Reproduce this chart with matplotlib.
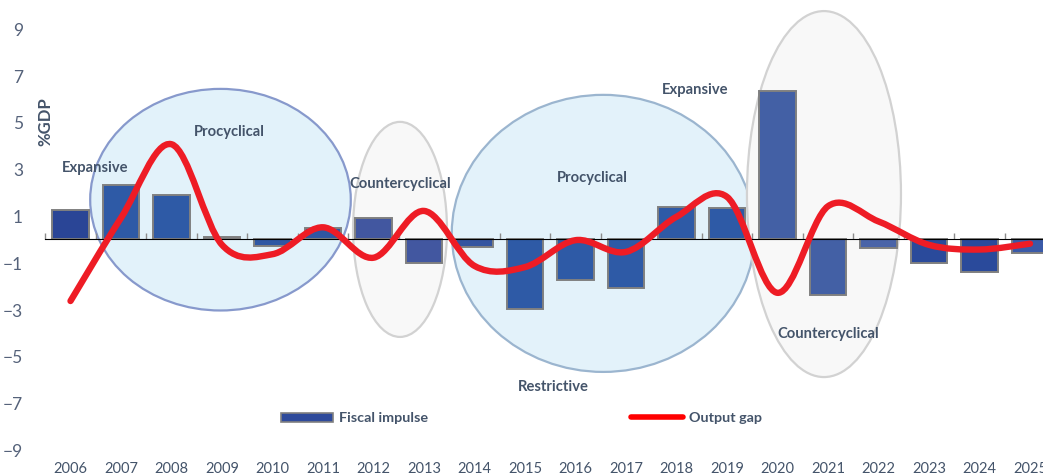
import matplotlib
matplotlib.use("Agg")
import matplotlib.pyplot as plt
from matplotlib.patches import Ellipse, Rectangle, PathPatch
from matplotlib.path import Path
from matplotlib.lines import Line2D
import numpy as np

plt.rcParams['font.family'] = ['Lato', 'DejaVu Sans']

# data
years = [str(y) for y in range(2006, 2026)]
fiscal_impulse = [1.24, 2.3, 1.88, 0.08, -0.3, 0.47, 0.9, -1.03, -0.33, -3.0,
                  -1.75, -2.08, 1.38, 1.33, 6.34, -2.38, -0.38, -1.03, -1.4, -0.6]
output_gap = [-2.65, 0.9, 4.05, -0.25, -0.65, 0.5, -0.8, 1.2, -1.15, -1.2,
              -0.05, -0.55, 0.95, 1.8, -2.3, 1.4, 0.75, -0.25, -0.45, -0.2]
y_ticks = [9, 7, 5, 3, 1, -1, -3, -5, -7, -9]

bar_colors = ['#2A4596', '#2E5AA6', '#2E5AA6', '#5E7396', '#2F57A3', '#2F57A3',
              '#4257A0', '#4257A0', '#3555A0', '#2E5AA6', '#2E5AA6', '#2E5AA6',
              '#2E5AA6', '#2E5AA6', '#4360A5', '#4360A5', '#4A64A8', '#2A4A9B',
              '#2A4A9B', '#3A5AA8']
txt_col = '#44546A'
W, H = 1043, 477


def smooth_path(xs, ys):
	# excel-like smoothed line: cubic bezier through every point
	p = np.column_stack([xs, ys]).astype(float)
	ext = np.vstack([p[0], p, p[-1]])
	verts = [p[0]]
	codes = [Path.MOVETO]
	for i in range(len(p) - 1):
		a, b, c, d = ext[i], ext[i + 1], ext[i + 2], ext[i + 3]
		verts += [b + (c - a) / 6, c - (d - b) / 6, c]
		codes += [Path.CURVE4] * 3
	return Path(verts, codes)


fig = plt.figure(figsize=(W / 100, H / 100), dpi=100)
ax = fig.add_axes([45.25 / W, 1 - 450.6 / H, 1010 / W, 421.2 / H])
x = np.arange(len(years))

# highlight ellipses (center x, center y, width, height in data units)
shapes = [
	(2.97, 1.68, 5.16, 9.47, '#E2F2FA', '#8799CC'),
	(6.525, 0.41, 1.86, 9.19, '#F8F8F8', '#D2D2D2'),
	(10.55, 0.24, 6.0, 11.84, '#E3F2FA', '#9BB5CF'),
	(14.92, 1.92, 3.05, 15.64, '#F8F8F8', '#D2D2D2'),
]
for cx, cy, w, h, fc, ec in shapes:
	ax.add_patch(Ellipse((cx, cy), w, h, facecolor=fc, edgecolor=ec, lw=1.6,
	                     zorder=1, clip_on=False))

ax.bar(x, fiscal_impulse, width=0.72, color=bar_colors, edgecolor='#808080',
       linewidth=1.4, zorder=2)

ax.add_patch(PathPatch(smooth_path(x, output_gap), facecolor='none', edgecolor='#EE1C25',
                       lw=4.6, capstyle='round', joinstyle='round', zorder=3))

notes = [
	(0.49, 3.08, 'Expansive'),
	(3.14, 4.6, 'Procyclical'),
	(6.52, 2.39, 'Countercyclical'),
	(10.33, 2.65, 'Procyclical'),
	(12.36, 6.41, 'Expansive'),
	(9.56, -6.28, 'Restrictive'),
	(15.0, -4.03, 'Countercyclical'),
]
for nx, ny, s in notes:
	ax.text(nx, ny, s, ha='center', va='center', fontsize=10.6, fontweight='bold',
	        color=txt_col, zorder=4)

ax.set_xlim(-0.5, len(years) - 0.5)
ax.set_ylim(-9, 9)
ax.set_xticks(x)
ax.set_xticklabels(years)
ax.set_yticks(y_ticks)
ax.tick_params(axis='x', length=0, pad=8, labelsize=10.5, labelcolor='#44546A')
ax.tick_params(axis='y', length=0, pad=16, labelsize=12.5, labelcolor='#55627A')
for s in ax.spines.values():
	s.set_visible(False)

# zero axis with category boundary ticks
zero = ax.secondary_xaxis(0.5)
zero.set_xticks(np.arange(len(years) + 1) - 0.5)
zero.set_xticklabels([])
zero.tick_params(length=4, color='#8C8C8C', width=1)
zero.spines['bottom'].set_color('#8C8C8C')
zero.spines['bottom'].set_linewidth(1.2)
zero.set_zorder(2.5)

fig.text(45 / W, 1 - 122 / H, '%GDP', rotation=90, ha='center', va='center',
         fontsize=12, fontweight='bold', color=txt_col)

# legend
ly = 1 - 418 / H
fig.patches.append(Rectangle((281 / W, 1 - 422.5 / H), 52 / W, 9 / H, transform=fig.transFigure,
                             facecolor='#2E4A9B', edgecolor='#808080', lw=1.2))
fig.text(339 / W, ly, 'Fiscal impulse', ha='left', va='center', fontsize=10.4,
         fontweight='bold', color=txt_col)
fig.add_artist(Line2D([631 / W, 683 / W], [ly, ly], transform=fig.transFigure,
                      color='#FF0000', lw=4, solid_capstyle='round'))
fig.text(689 / W, ly, 'Output gap', ha='left', va='center', fontsize=10.4,
         fontweight='bold', color=txt_col)

fig.savefig('out.png', dpi=100)
